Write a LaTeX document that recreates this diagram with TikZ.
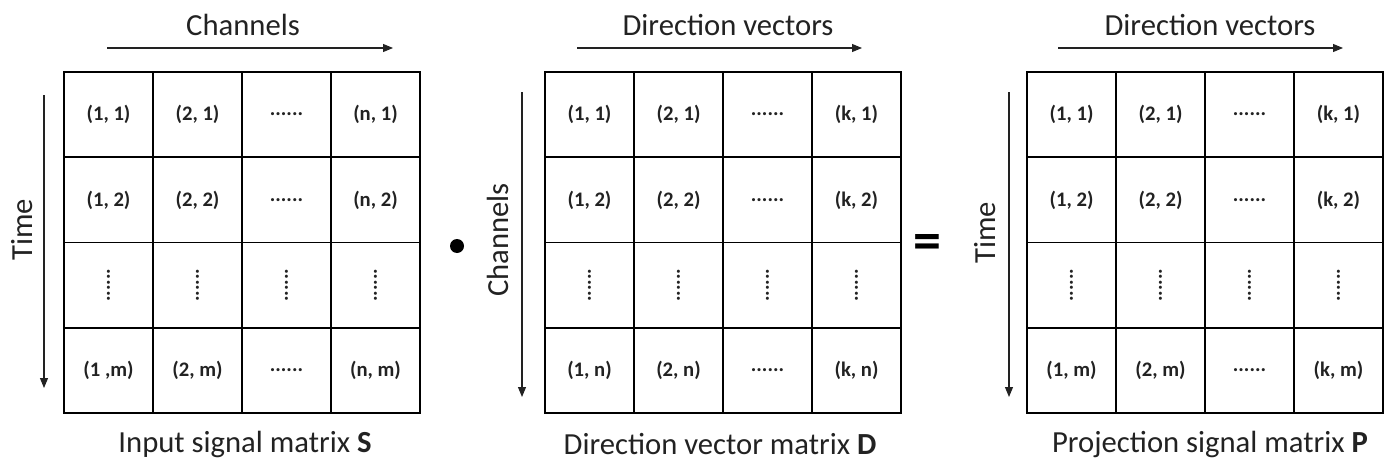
\documentclass[tikz,border=0pt]{standalone}
\usepackage{fontspec}
\setmainfont{Carlito}
\usetikzlibrary{arrows.meta,positioning}

\definecolor{ink}{HTML}{222222}

\begin{document}
\begin{tikzpicture}[x=0.75pt,y=-0.75pt,
  cell/.style={draw=black, line width=1.2pt, inner sep=0pt, outer sep=0pt,
    minimum width=66.75pt, minimum height=63.94pt, text=ink,
    font=\bfseries\fontsize{15.5}{18}\selectfont},
  lbl/.style={text=ink, inner sep=0pt, font=\fontsize{23}{27}\selectfont},
  axis/.style={draw=ink, line width=0.8pt, -{Triangle[length=7.5pt,width=6pt]}}]
\useasboundingbox (0,0) rectangle (1389,464);

% three 4x4 grids: name / left edge / last column / last row / first cell of last row
\foreach \m/\mx/\c/\r/\first in {S/64/n/m/{(1 ,m)}, D/545/k/n/{(1, n)}, P/1027/k/m/{(1, m)}}{
  \node[cell] (\m11) at (\mx+44.5,114.6) {(1, 1)};
  \node[cell] (\m12) at (\mx+44.5,199.9) {(1, 2)};
  \node[cell] (\m14) at (\mx+44.5,370.4) {\first};
  \foreach \i/\a in {2/2, 4/\c}{
    \node[cell] (\m\i1) at (\mx+89*\i-44.5,114.6) {(\a, 1)};
    \node[cell] (\m\i2) at (\mx+89*\i-44.5,199.9) {(\a, 2)};
    \node[cell] (\m\i4) at (\mx+89*\i-44.5,370.4) {(\a, \r)};
  }
  \foreach \j/\y in {1/114.6, 2/199.9, 4/370.4}
    \node[cell] (\m3\j) at (\mx+222.5,\y) {\raisebox{-2pt}{......}};
  \foreach \i in {1,...,4}
    \node[cell] (\m\i3) at (\mx+89*\i-44.5,285.1) {\raisebox{-4pt}{\rotatebox{90}{......}}};
}

% axis labels and arrows
\node[lbl] (chS) at (243,25) {Channels};
\node[lbl] (dvD) at (728,25) {Direction vectors};
\node[lbl] (dvP) at (1210,25) {Direction vectors};
\coordinate (aS0) at (107,48);  \coordinate (aS1) at (393,48);
\coordinate (aD0) at (577,48);  \coordinate (aD1) at (862,48);
\coordinate (aP0) at (1058,48); \coordinate (aP1) at (1343,48);
\draw[axis] (aS0) -- (aS1);
\draw[axis] (aD0) -- (aD1);
\draw[axis] (aP0) -- (aP1);

\node[lbl, rotate=90] (tS) at (22,230) {Time};
\node[lbl, rotate=90] (chD) at (498,240) {Channels};
\node[lbl, rotate=90] (tP) at (985,233) {Time};
\coordinate (vS0) at (44,95);   \coordinate (vS1) at (44,388);
\coordinate (vD0) at (522,92);  \coordinate (vD1) at (522,397);
\coordinate (vP0) at (1009,92); \coordinate (vP1) at (1009,397);
\draw[axis] (vS0) -- (vS1);
\draw[axis] (vD0) -- (vD1);
\draw[axis] (vP0) -- (vP1);

% operators
\node[circle, fill=black, inner sep=0pt, minimum size=10.5pt] (dot) at (457,246) {};
\node[inner sep=0pt, font=\bfseries\fontsize{42}{42}\selectfont] (eq) at (927,247) {=};

% captions
\node[lbl] (capS) at (245,444) {Input signal matrix \textbf{S}};
\node[lbl] (capD) at (720,444) {Direction vector matrix \textbf{D}};
\node[lbl] (capP) at (1210,444) {Projection signal matrix \textbf{P}};
\end{tikzpicture}
\end{document}
